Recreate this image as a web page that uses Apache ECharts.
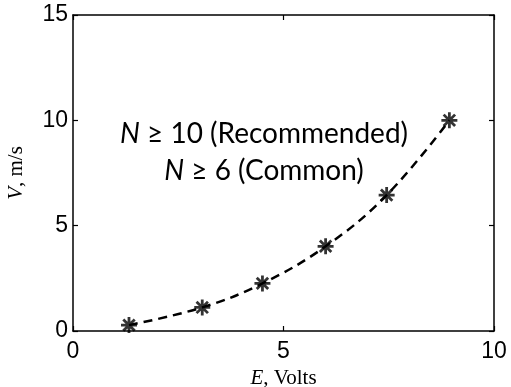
<!DOCTYPE html>
<html>
<head>
<meta charset="utf-8">
<script src="https://cdn.jsdelivr.net/npm/echarts@6/dist/echarts.min.js"></script>
<style>
  html, body { margin: 0; padding: 0; background: #fff; }
  #chart { width: 511px; height: 387px; }
</style>
</head>
<body>
<div id="chart"></div>
<script>
// Measured speed V (m/s) against applied voltage E
const voltsE = [1.33, 3.07, 4.5, 6.0, 7.45, 8.94];
const speedV = [0.28, 1.12, 2.26, 4.02, 6.45, 10.0];
const xTicks = [0, 5, 10];
const yTicks = [0, 5, 10, 15];

const points = voltsE.map((e, i) => [e, speedV[i]]);

// eight-armed asterisk marker
const asterisk = 'path://M7,0L7,14M0,7L14,7M2,2L12,12M12,2L2,12';

const tickFont = { fontFamily: 'Liberation Sans, Arial, sans-serif', fontSize: 23, color: '#000' };
const serif = 'Liberation Serif, Times New Roman, serif';
const boxLine = { show: true, onZero: false, lineStyle: { color: '#000', width: 1.5 } };
const innerTick = { show: true, inside: true, length: 5, lineStyle: { color: '#000', width: 1.2 } };

const chart = echarts.init(document.getElementById('chart'));
chart.setOption({
  animation: false,
  backgroundColor: '#fff',
  grid: { left: 73, right: 17, top: 15, bottom: 56, containLabel: false, outerBoundsMode: 'none' },
  xAxis: [{
    type: 'value', min: xTicks[0], max: xTicks[xTicks.length - 1], interval: 5,
    position: 'bottom',
    axisLine: boxLine, axisTick: innerTick,
    splitLine: { show: false },
    axisLabel: Object.assign({ margin: 9 }, tickFont),
    name: '{i|E}{r|, Volts}',
    nameLocation: 'middle', nameGap: 37,
    nameTextStyle: {
      rich: {
        i: { fontFamily: serif, fontStyle: 'italic', fontSize: 21, color: '#000' },
        r: { fontFamily: serif, fontSize: 21, color: '#000' }
      }
    }
  }, {
    type: 'value', min: xTicks[0], max: xTicks[xTicks.length - 1], interval: 5, position: 'top',
    axisLine: boxLine, axisTick: innerTick,
    axisLabel: { show: false }, splitLine: { show: false }
  }],
  yAxis: [{
    type: 'value', min: yTicks[0], max: yTicks[yTicks.length - 1], interval: 5,
    position: 'left',
    axisLine: boxLine, axisTick: innerTick,
    splitLine: { show: false },
    axisLabel: Object.assign({ margin: 5 }, tickFont),
    name: '{i|V}{r|, m/s}',
    nameLocation: 'middle', nameGap: 46, nameRotate: 90,
    nameTextStyle: {
      rich: {
        i: { fontFamily: serif, fontStyle: 'italic', fontSize: 21, color: '#000' },
        r: { fontFamily: serif, fontSize: 21, color: '#000' }
      }
    }
  }, {
    type: 'value', min: yTicks[0], max: yTicks[yTicks.length - 1], interval: 5, position: 'right',
    axisLine: boxLine, axisTick: innerTick,
    axisLabel: { show: false }, splitLine: { show: false }
  }],
  series: [{
    type: 'line',
    data: points,
    smooth: 0.4,
    showSymbol: false,
    lineStyle: { color: '#000', width: 2.5, type: [9, 6] },
    z: 2
  }, {
    type: 'scatter',
    data: points,
    symbol: asterisk,
    symbolSize: 16,
    itemStyle: { color: '#000', borderColor: '#000', borderWidth: 2.8 },
    z: 3
  }, {
    // binds the top and right frame axes so they are drawn
    type: 'line',
    xAxisIndex: 1, yAxisIndex: 1,
    data: [],
    silent: true
  }],
  graphic: [{
    type: 'text',
    x: 264, y: 152,
    style: {
      text: '{i|N} ≥ 10 (Recommended)\n{i|N} ≥ 6 (Common)',
      fontFamily: 'Lato, sans-serif', fontSize: 28, fill: '#000',
      align: 'center', verticalAlign: 'middle', lineHeight: 37,
      rich: { i: { fontFamily: 'Lato, sans-serif', fontStyle: 'italic', fontSize: 28, fill: '#000' } }
    }
  }]
});
</script>
</body>
</html>
